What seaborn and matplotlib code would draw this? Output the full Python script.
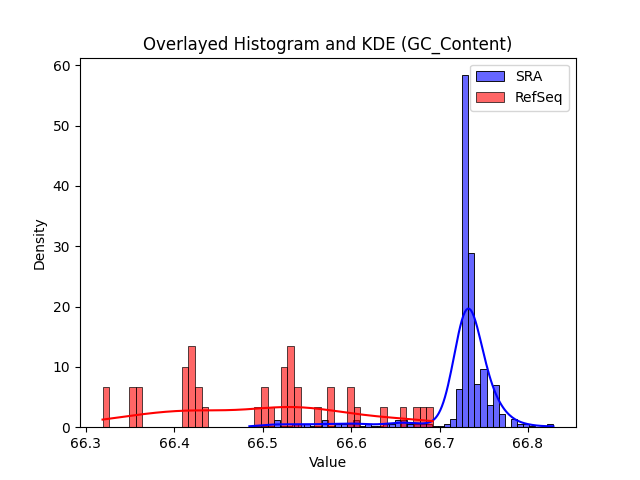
import numpy as np
import pandas as pd
import matplotlib
matplotlib.use("Agg")
import matplotlib.pyplot as plt
import seaborn as sns

# RefSeq GC content values (40 genomes)
refseq_values = [
    66.3188, 66.3221, 66.3510, 66.3539, 66.3583, 66.3612,
    66.4102, 66.4121, 66.4140, 66.4168, 66.4186, 66.4204, 66.4222,
    66.4257, 66.4281, 66.4349,
    66.4938, 66.5003, 66.5030, 66.5092,
    66.5224, 66.5241, 66.5262, 66.5290, 66.5308, 66.5327, 66.5343,
    66.5376, 66.5405, 66.5617, 66.5751, 66.5779,
    66.5973, 66.6004, 66.6064, 66.6361, 66.6588,
    66.6737, 66.6809, 66.6924,
]

# SRA GC content: distinct values and how many samples share each
sra_values = [
    66.4849, 66.4952, 66.5021, 66.5090, 66.5159, 66.5228, 66.5296, 66.5365,
    66.5434, 66.5503, 66.5571, 66.5640, 66.5709, 66.5778, 66.5846, 66.5915,
    66.5984, 66.6053, 66.6121, 66.6190, 66.6259, 66.6328, 66.6396, 66.6465,
    66.6534, 66.6603, 66.6671, 66.6740, 66.6809, 66.6878, 66.6946, 66.7015,
    66.7084, 66.7153, 66.7221, 66.7290, 66.7359, 66.7428, 66.7496, 66.7565,
    66.7634, 66.7703, 66.7840, 66.7909, 66.7978, 66.8046, 66.8289,
]
sra_counts = [
    1, 1, 1, 1, 4, 1, 1, 2,
    2, 2, 1, 1, 4, 1, 2, 2,
    2, 4, 1, 2, 1, 1, 2, 2,
    4, 4, 2, 2, 2, 2, 1, 1,
    2, 5, 23, 210, 104, 26, 35, 13,
    25, 8, 5, 2, 2, 1, 2,
]

sra = pd.Series(np.repeat(sra_values, sra_counts), name="GC_Content")
refseq = pd.Series(refseq_values, name="GC_Content")

fig, ax = plt.subplots(figsize=(6.4, 4.8), dpi=100)
sns.histplot(sra, bins=50, stat="density", kde=True, color="blue",
             alpha=0.6, label="SRA", ax=ax)
sns.histplot(refseq, bins=50, stat="density", kde=True, color="red",
             alpha=0.6, label="RefSeq", ax=ax)

ax.set_title("Overlayed Histogram and KDE (GC_Content)")
ax.set_xlabel("Value")
ax.set_ylabel("Density")
ax.legend(loc="upper right")
fig.savefig("out.png", dpi=100)
